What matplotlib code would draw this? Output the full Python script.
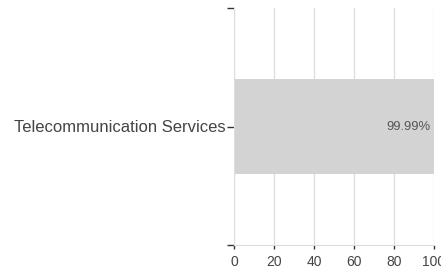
import matplotlib
matplotlib.use("Agg")
import matplotlib.pyplot as plt

plt.rcParams["font.family"] = ["Liberation Sans", "DejaVu Sans"]

# data
categories = ["Telecommunication Services"]
values = [99.99]
value_labels = ["99.99%"]
x_ticks = [0, 20, 40, 60, 80, 100]

text_color = "#444444"
grid_color = "#dddddd"

fig = plt.figure(figsize=(4.41, 2.67), dpi=100)
ax = fig.add_axes([234 / 441, 1 - 245 / 267, 200 / 441, 237 / 267])

ypos = list(range(len(categories)))
ax.barh(ypos, values, height=0.4, color="#d3d3d3", zorder=2)

for y, v, lab in zip(ypos, values, value_labels):
    ax.text(v - 1.5, y, lab, ha="right", va="center", fontsize=9.4,
            color="#555555", zorder=3)

ax.set_xlim(0, 100)
ax.set_ylim(-0.5, len(categories) - 0.5)

# vertical gridlines
for xt in x_ticks:
    ax.axvline(xt, color=grid_color, linewidth=0.9, zorder=1)

ax.set_xticks(x_ticks)
ax.set_xticklabels([str(t) for t in x_ticks], fontsize=10, color=text_color)
ax.tick_params(axis="x", length=3, width=1, color="#333333", pad=4.5)

ax.set_yticks([-0.5] + ypos + [len(categories) - 0.5])
ax.set_yticklabels([""] + categories + [""], fontsize=12, color=text_color)
ax.tick_params(axis="y", length=5, width=1, color="#333333", pad=1)

for side in ["top", "right"]:
    ax.spines[side].set_visible(False)
ax.spines["left"].set_color(grid_color)
ax.spines["bottom"].set_color(grid_color)

fig.savefig("out.png", dpi=100)
